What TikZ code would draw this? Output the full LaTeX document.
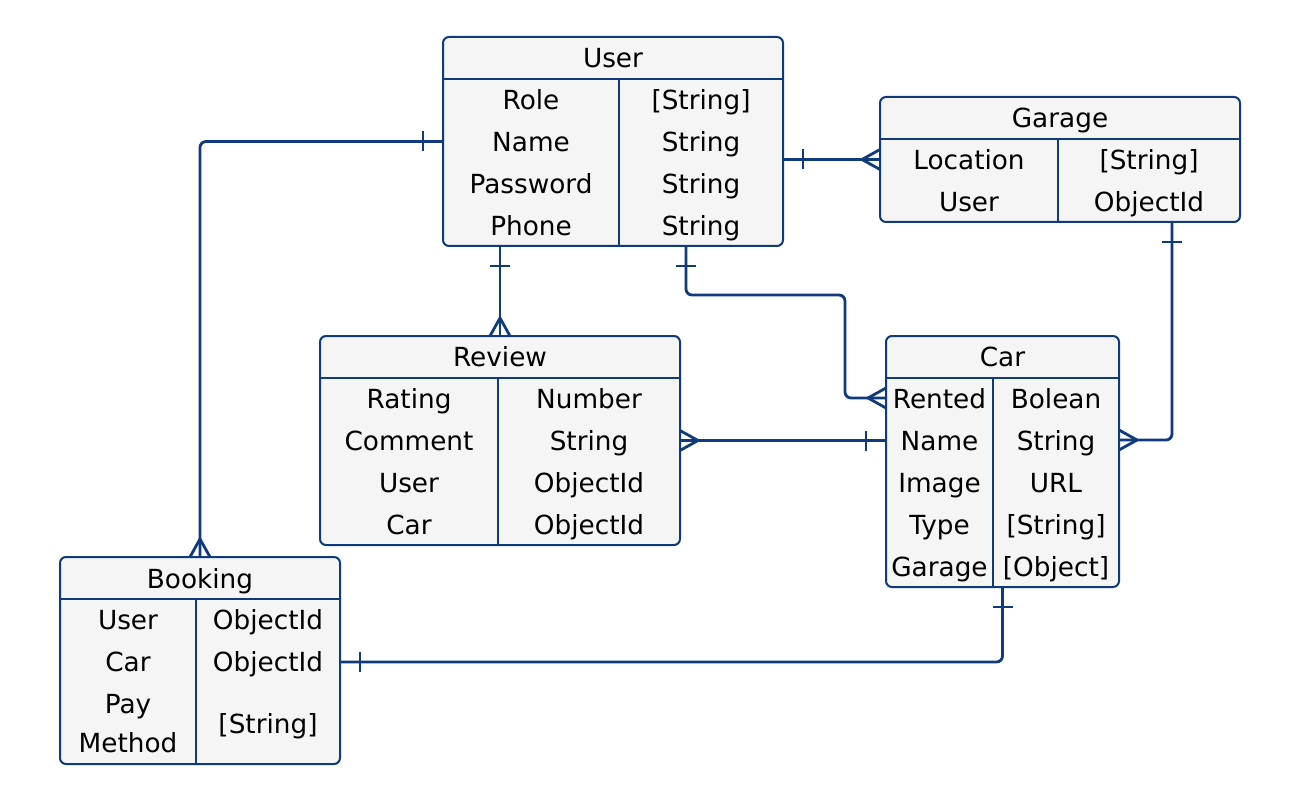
\documentclass[tikz,border=0pt]{standalone}
\usepackage{fontspec}
\setmainfont{DejaVu Sans}
\definecolor{erblue}{HTML}{0F3B7C}
\definecolor{erfill}{HTML}{F5F5F5}
\tikzset{
  ent/.style={draw=erblue, line width=2pt, fill=erfill, rounded corners=6pt, inner sep=0pt, outer sep=0pt},
  sepline/.style={draw=erblue, line width=2pt},
  conn/.style={draw=erblue, line width=2.8pt, rounded corners=6pt},
  lbl/.style={font=\fontsize{26.3}{30}\selectfont, text=black, inner sep=0pt, text height=19pt, text depth=0pt, anchor=center},
  lbl2/.style={font=\fontsize{26.3}{38.5}\selectfont, text=black, inner sep=0pt, align=center, anchor=center},
  pics/crowfoot/.style={code={\draw[erblue,line width=2.8pt] (0,10) -- (18,0) -- (0,-10);}},
  pics/onebar/.style={code={\draw[erblue,line width=2.8pt] (20,-10) -- (20,10);}},
}
\begin{document}
\begin{tikzpicture}[x=1pt,y=-1pt]
\fill[white] (0,0) rectangle (1300,802);
\useasboundingbox (0,0) rectangle (1300,802);

% entities
\node[ent, minimum width=340pt, minimum height=209pt] (user) at (613,141.5) {};
\node[ent, minimum width=360pt, minimum height=125pt] (garage) at (1060,159.5) {};
\node[ent, minimum width=360pt, minimum height=209pt] (review) at (500,440.5) {};
\node[ent, minimum width=233pt, minimum height=251pt] (car) at (1002.5,461.5) {};
\node[ent, minimum width=280pt, minimum height=207pt] (booking) at (200,660.5) {};

% header lines and column dividers
\draw[sepline] (user.west |- 0,79) -- (user.east |- 0,79);
\draw[sepline] (619,79) -- (619,0 |- user.south);
\draw[sepline] (garage.west |- 0,139) -- (garage.east |- 0,139);
\draw[sepline] (1058,139) -- (1058,0 |- garage.south);
\draw[sepline] (review.west |- 0,378) -- (review.east |- 0,378);
\draw[sepline] (498,378) -- (498,0 |- review.south);
\draw[sepline] (car.west |- 0,378) -- (car.east |- 0,378);
\draw[sepline] (993,378) -- (993,0 |- car.south);
\draw[sepline] (booking.west |- 0,599) -- (booking.east |- 0,599);
\draw[sepline] (196,599) -- (196,0 |- booking.south);

% User
\node[lbl] (userT) at (613,58.5) {User};
\node[lbl] (u1a) at (531,100.5) {Role};     \node[lbl] (u1b) at (701,100.5) {[String]};
\node[lbl] (u2a) at (531,142.3) {Name};     \node[lbl] (u2b) at (701,142.3) {String};
\node[lbl] (u3a) at (531,184) {Password};   \node[lbl] (u3b) at (701,184) {String};
\node[lbl] (u4a) at (531,226) {Phone};      \node[lbl] (u4b) at (701,226) {String};

% Garage
\node[lbl] (garageT) at (1060,118.5) {Garage};
\node[lbl] (g1a) at (969,160) {Location};   \node[lbl] (g1b) at (1149,160) {[String]};
\node[lbl] (g2a) at (969,202) {User};       \node[lbl] (g2b) at (1149,202) {ObjectId};

% Review
\node[lbl] (reviewT) at (500,357) {Review};
\node[lbl] (r1a) at (409,399) {Rating};     \node[lbl] (r1b) at (589,399) {Number};
\node[lbl] (r2a) at (409,441) {Comment};    \node[lbl] (r2b) at (589,441) {String};
\node[lbl] (r3a) at (409,483) {User};       \node[lbl] (r3b) at (589,483) {ObjectId};
\node[lbl] (r4a) at (409,525) {Car};        \node[lbl] (r4b) at (589,525) {ObjectId};

% Car
\node[lbl] (carT) at (1002.5,357) {Car};
\node[lbl] (c1a) at (939.5,399) {Rented};   \node[lbl] (c1b) at (1056,399) {Bolean};
\node[lbl] (c2a) at (939.5,441) {Name};     \node[lbl] (c2b) at (1056,441) {String};
\node[lbl] (c3a) at (939.5,483) {Image};    \node[lbl] (c3b) at (1056,483) {URL};
\node[lbl] (c4a) at (939.5,525) {Type};     \node[lbl] (c4b) at (1056,525) {[String]};
\node[lbl] (c5a) at (939.5,567) {Garage};   \node[lbl] (c5b) at (1056,567) {[Object]};

% Booking
\node[lbl] (bookingT) at (200,578.5) {Booking};
\node[lbl] (b1a) at (128,620) {User};       \node[lbl] (b1b) at (268,620) {ObjectId};
\node[lbl] (b2a) at (128,662) {Car};        \node[lbl] (b2b) at (268,662) {ObjectId};
\node[lbl2] (b3a) at (128,723.5) {Pay\\Method};
\node[lbl] (b3b) at (268,723.5) {[String]};

% connectors
% User -- Booking
\draw[conn] (user.west) -| (booking.north);
\pic[rotate=180] at (user.west) {onebar};
\pic[rotate=90] at (booking.north) {crowfoot};

% User -- Garage
\draw[conn] (user.east |- garage.west) -- (garage.west);
\pic at (user.east |- garage.west) {onebar};
\pic[rotate=180] at (garage.west) {crowfoot};

% User -- Review
\draw[conn] (review.north |- user.south) -- (review.north);
\pic[rotate=270] at (review.north |- user.south) {onebar};
\pic[rotate=90] at (review.north) {crowfoot};

% User -- Car
\coordinate (ucbend) at (845,295);
\draw[conn] ([xshift=73pt]user.south) |- (ucbend) |- (car.west |- 0,398);
\pic[rotate=270] at ([xshift=73pt]user.south) {onebar};
\pic[rotate=180] at (car.west |- 0,398) {crowfoot};

% Review -- Car
\draw[conn] (review.east) -- (car.west |- review.east);
\pic at (review.east) {crowfoot};
\pic[rotate=180] at (car.west |- review.east) {onebar};

% Garage -- Car
\draw[conn] (1172,0 |- garage.south) |- (car.east |- 0,440);
\pic[rotate=270] at (1172,0 |- garage.south) {onebar};
\pic at (car.east |- 0,440) {crowfoot};

% Car -- Booking
\draw[conn] (car.south) |- (booking.east |- 0,662);
\pic[rotate=270] at (car.south) {onebar};
\pic at (booking.east |- 0,662) {onebar};
\end{tikzpicture}
\end{document}
